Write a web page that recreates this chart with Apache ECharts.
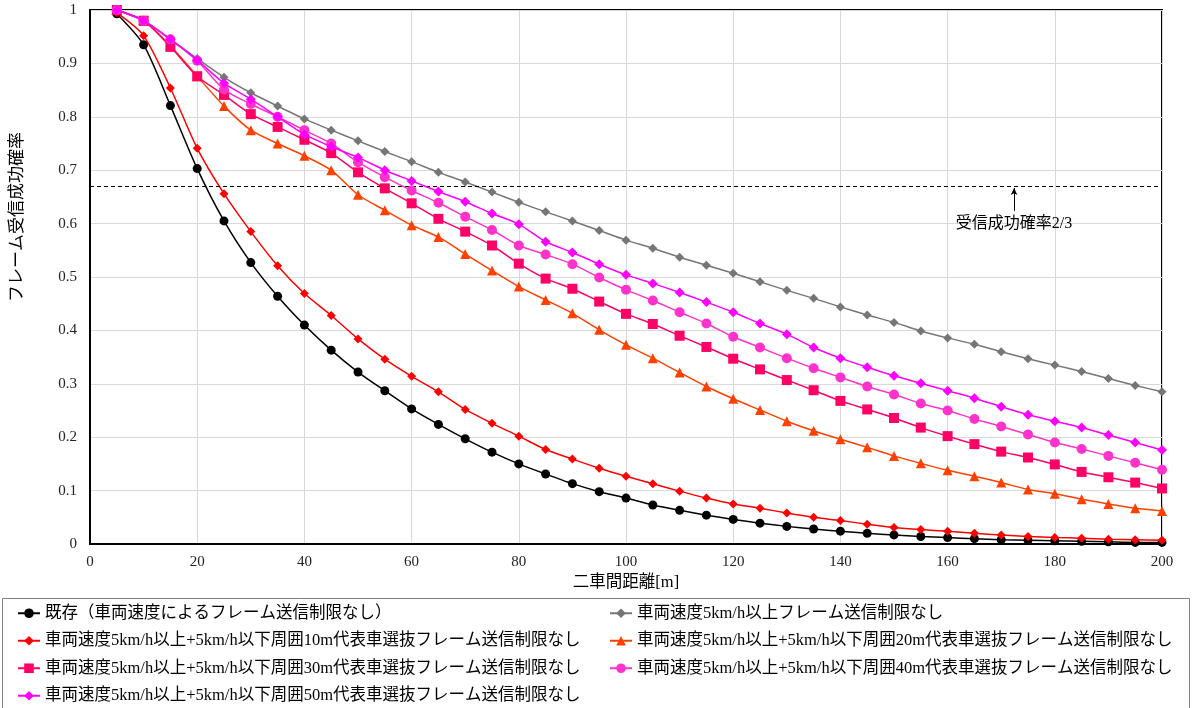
<!DOCTYPE html>
<html>
<head>
<meta charset="utf-8">
<script src="https://cdn.jsdelivr.net/npm/echarts@6/dist/echarts.min.js"></script>
<style>html,body{margin:0;padding:0;background:#fff}#c{width:1192px;height:708px}</style>
</head>
<body>
<div id="c"></div>
<script>
const distances = [5,10,15,20,25,30,35,40,45,50,55,60,65,70,75,80,85,90,95,100,105,110,115,120,125,130,135,140,145,150,155,160,165,170,175,180,185,190,195,200];
const seriesNames = [
  '既存（車両速度によるフレーム送信制限なし）',
  '車両速度5km/h以上フレーム送信制限なし',
  '車両速度5km/h以上+5km/h以下周囲10m代表車選抜フレーム送信制限なし',
  '車両速度5km/h以上+5km/h以下周囲20m代表車選抜フレーム送信制限なし',
  '車両速度5km/h以上+5km/h以下周囲30m代表車選抜フレーム送信制限なし',
  '車両速度5km/h以上+5km/h以下周囲40m代表車選抜フレーム送信制限なし',
  '車両速度5km/h以上+5km/h以下周囲50m代表車選抜フレーム送信制限なし'
];
const existing = [0.993,0.935,0.821,0.703,0.605,0.527,0.464,0.410,0.363,0.322,0.287,0.253,0.224,0.197,0.172,0.150,0.131,0.113,0.098,0.086,0.073,0.063,0.054,0.046,0.039,0.033,0.028,0.024,0.020,0.017,0.014,0.012,0.010,0.008,0.007,0.006,0.005,0.004,0.003,0.003];
const speedOnly = [1.0,0.980,0.945,0.909,0.874,0.845,0.820,0.796,0.775,0.755,0.735,0.716,0.696,0.678,0.659,0.640,0.622,0.605,0.587,0.569,0.554,0.537,0.522,0.507,0.491,0.475,0.460,0.444,0.429,0.415,0.399,0.386,0.374,0.360,0.347,0.335,0.323,0.310,0.297,0.285];
const around10 = [0.995,0.952,0.854,0.741,0.656,0.585,0.521,0.469,0.428,0.384,0.346,0.314,0.285,0.252,0.226,0.202,0.177,0.159,0.142,0.127,0.113,0.099,0.086,0.075,0.067,0.058,0.050,0.044,0.037,0.031,0.027,0.024,0.020,0.017,0.014,0.012,0.011,0.009,0.008,0.007];
const around20 = [1.0,0.980,0.933,0.876,0.820,0.775,0.750,0.727,0.700,0.654,0.625,0.597,0.575,0.543,0.512,0.482,0.457,0.432,0.401,0.373,0.348,0.321,0.295,0.272,0.251,0.230,0.212,0.196,0.181,0.165,0.151,0.138,0.127,0.115,0.102,0.094,0.084,0.075,0.067,0.062];
const around30 = [1.0,0.980,0.931,0.876,0.841,0.805,0.781,0.757,0.732,0.696,0.666,0.638,0.609,0.585,0.559,0.525,0.497,0.478,0.454,0.431,0.412,0.390,0.369,0.347,0.327,0.307,0.288,0.268,0.252,0.236,0.218,0.202,0.187,0.173,0.162,0.149,0.135,0.125,0.115,0.104];
const around40 = [1.0,0.980,0.945,0.905,0.851,0.824,0.800,0.775,0.750,0.715,0.687,0.662,0.639,0.613,0.588,0.559,0.542,0.524,0.499,0.476,0.456,0.434,0.413,0.388,0.368,0.348,0.329,0.312,0.295,0.280,0.263,0.250,0.234,0.220,0.205,0.190,0.178,0.165,0.152,0.139];
const around50 = [1.0,0.980,0.945,0.906,0.863,0.833,0.800,0.767,0.744,0.724,0.700,0.680,0.660,0.641,0.619,0.599,0.566,0.546,0.524,0.504,0.488,0.471,0.453,0.434,0.413,0.393,0.368,0.348,0.331,0.315,0.301,0.287,0.273,0.257,0.242,0.230,0.218,0.204,0.190,0.176];
const thresholdValue = 0.6667;
const annotationText = '受信成功確率2/3';
const annotationX = 172.4;
const arrowBottomValue = 0.624;
const textValue = 0.600;

const allValues = [existing, speedOnly, around10, around20, around30, around40, around50];
const colors = ['#000000','#767676','#FF0000','#FF4000','#FF0066','#FF33CC','#FF00FF'];
const symbols = ['circle','diamond','diamond','triangle','rect','circle','diamond'];
const symbolSizes = [9,9,9,10,10,10,10];
const FONT = "'Liberation Serif', 'Noto Sans CJK JP', serif";

const series = allValues.map((vals, i) => ({
  name: seriesNames[i],
  type: 'line',
  smooth: 0.25,
  data: distances.map((d, j) => [d, vals[j]]),
  symbol: symbols[i],
  symbolSize: symbolSizes[i],
  showSymbol: true,
  itemStyle: {color: colors[i]},
  lineStyle: {color: colors[i], width: 1.5},
  emphasis: {disabled: true},
  z: 2 + i
}));

series[0].markLine = {
  silent: true,
  symbol: 'none',
  animation: false,
  label: {show: false},
  lineStyle: {color: '#000', type: [4, 3], width: 1},
  data: [
    {yAxis: thresholdValue},
    [
      {coord: [annotationX, arrowBottomValue], symbol: 'none'},
      {coord: [annotationX, thresholdValue], symbol: 'arrow', symbolSize: [5, 7], lineStyle: {type: 'solid', width: 1}}
    ]
  ]
};
series[0].markPoint = {
  silent: true,
  symbol: 'circle',
  symbolSize: 0,
  animation: false,
  label: {show: true, position: 'inside', color: '#000', fontSize: 16, fontFamily: FONT, formatter: annotationText},
  data: [{coord: [annotationX, textValue]}]
};

const legendCommon = {
  orient: 'vertical',
  top: 600,
  height: 200,
  itemWidth: 22,
  itemHeight: 12,
  itemGap: 11,
  textStyle: {fontFamily: FONT, fontSize: 16.5, color: '#000'},
  selectedMode: false
};

const option = {
  animation: false,
  backgroundColor: '#fff',
  grid: {left: 90, right: 30, top: 10, bottom: 164, show: true, borderColor: '#000', borderWidth: 2, containLabel: false},
  xAxis: {
    type: 'value', min: 0, max: 200, interval: 20,
    name: '二車間距離[m]', nameLocation: 'middle', nameGap: 27,
    nameTextStyle: {fontFamily: FONT, fontSize: 16.5, color: '#000'},
    axisLine: {show: true, lineStyle: {color: '#000', width: 2}},
    axisTick: {show: false},
    axisLabel: {fontFamily: FONT, fontSize: 15, color: '#222', margin: 11},
    splitLine: {show: true, lineStyle: {color: '#D9D9D9', width: 1}}
  },
  yAxis: {
    type: 'value', min: 0, max: 1, interval: 0.1,
    name: 'フレーム受信成功確率', nameLocation: 'middle', nameGap: 64,
    nameTextStyle: {fontFamily: FONT, fontSize: 17, color: '#000', padding: [0, 0, 0, 120]},
    axisLine: {show: true, lineStyle: {color: '#000', width: 2}},
    axisTick: {show: false},
    axisLabel: {fontFamily: FONT, fontSize: 15, color: '#222', margin: 13},
    splitLine: {show: true, lineStyle: {color: '#D9D9D9', width: 1}}
  },
  legend: [
    Object.assign({}, legendCommon, {left: 12, data: [seriesNames[0], seriesNames[2], seriesNames[4], seriesNames[6]]}),
    Object.assign({}, legendCommon, {left: 604, data: [seriesNames[1], seriesNames[3], seriesNames[5]]})
  ],
  graphic: [{
    type: 'rect', silent: true,
    shape: {x: 2.5, y: 598.5, width: 1187, height: 112},
    style: {fill: 'none', stroke: '#7F7F7F', lineWidth: 1}
  }],
  series: series
};

const chart = echarts.init(document.getElementById('c'), null, {renderer: 'canvas'});
chart.setOption(option);
</script>
</body>
</html>
